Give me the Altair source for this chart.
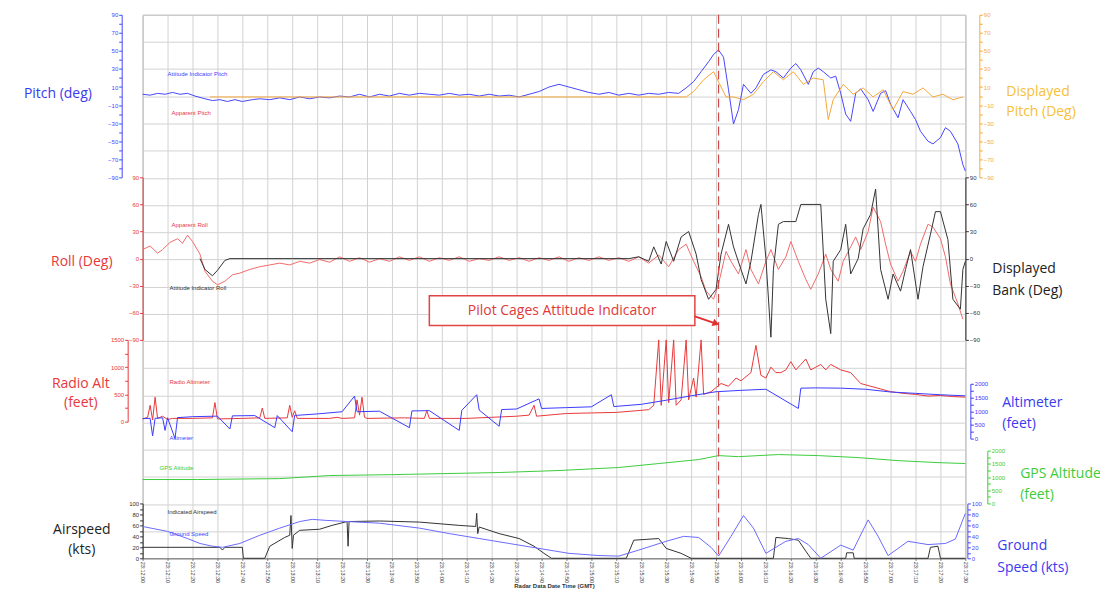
import altair as alt
import pandas as pd

W, H = 825, 545
T_MAX = 330

# ---------------- data ----------------
TICK_T = list(range(0, 331, 10))
TICK_LABELS = [
    "23:12:00", "23:12:10", "23:12:20", "23:12:30", "23:12:40", "23:12:50",
    "23:13:00", "23:13:10", "23:13:20", "23:13:30", "23:13:40", "23:13:50",
    "23:14:00", "23:14:10", "23:14:20", "23:14:30", "23:14:40", "23:14:50",
    "23:15:00", "23:15:10", "23:15:20", "23:15:30", "23:15:40", "23:15:50",
    "23:16:00", "23:16:10", "23:16:20", "23:16:30", "23:16:40", "23:16:50",
    "23:17:00", "23:17:10", "23:17:20", "23:17:30",
]

PITCH_T = [0, 3, 6, 9, 12, 15, 18, 21, 25, 28, 31, 34, 37, 40, 44, 47, 51, 55, 59, 63, 67, 71, 75, 79,
           83, 87, 91, 95, 99, 103, 107, 111, 115, 119, 123, 127, 131, 135, 139, 143, 147, 151, 155, 159,
           163, 167, 171, 175, 179, 183, 187, 191, 195, 199, 203, 207, 211, 215, 218, 221, 224, 227, 229,
           231, 233, 235, 237, 239, 241, 244, 246, 249, 252, 254, 257, 260, 262, 264, 267, 269, 271, 273,
           276, 278, 280, 282, 284, 286, 288, 291, 293, 296, 298, 300, 303, 305, 308, 310, 312, 315, 317,
           320, 322, 324, 327, 329, 330]
PITCH_V = [2, 1, 3, 2, 4, 2, 3, 0, -3, -5, -4, -6, -4, -6, -4, -3, -4, -2, -4, -1, -3, -1, -2, 0,
           -1, 2, -1, 2, 0, 3, 1, 3, 2, 1, 3, 1, 2, 0, 2, 0, 1, -1, 2, 5,
           10, 13, 10, 7, 4, 2, 4, 1, 3, 1, 3, 2, 4, 3, 9, 16, 27, 38, 46,
           51, 43, 7, -31, -15, 13, 3, 9, 24, 29, 27, 20, 31, 36, 29, 13, 27, 31, 27,
           20, 22, 3, -20, -28, 3, 8, -4, -17, 3, 6, -9, -24, -4, -17, -26, -39, -50, -53,
           -46, -35, -39, -53, -76, -83]

DPITCH_T = [27, 60, 100, 150, 200, 218, 221, 225, 229, 234, 237, 241, 245, 249, 253, 257, 261, 265,
            269, 273, 275, 277, 281, 285, 289, 293, 297, 301, 305, 309, 313, 317, 321, 325, 329]
DPITCH_V = [-1, -1, -1, -1, -1, -1, 5, 18, 27, -1, -1, -4, 2, 16, 27, 18, 27, 13,
            20, 18, -26, -4, 13, 2, 9, -1, 7, -15, 5, 2, 9, -1, 2, -4, -1]

ROLL_T = [0, 3, 6, 8, 11, 14, 16, 18, 20, 23, 25, 28, 30, 33, 36, 39, 43, 47, 51, 55,
          59, 63, 67, 71, 75, 79, 83, 87, 91, 95, 99, 103, 107, 111, 115, 119, 123, 127, 131, 135,
          139, 143, 147, 151, 155, 159, 163, 167, 171, 175, 179, 183, 187, 191, 195, 199, 203, 207, 211, 215,
          218, 221, 224, 226, 229, 231, 234, 236, 239, 242, 244, 247, 250, 252, 255, 258, 260, 263, 266, 268,
          271, 274, 276, 279, 281, 284, 286, 288, 291, 293, 296, 298, 300, 303, 305, 308, 310, 312, 315, 317,
          320, 322, 324, 327, 329]
ROLL_V = [10, 14, 6, 10, 18, 22, 17, 26, 19, 5, -14, -25, -29, -25, -18, -16, -12, -9, -7, -5,
          -7, -3, -5, -1, -4, 2, -3, 1, -4, 0, -3, 2, -2, 2, -3, 1, -2, 2, -3, 0,
          -2, 2, -2, 1, -3, 1, -2, 2, -3, 1, -2, 2, -2, 1, -3, 2, -5, 4, -9, 10,
          16, -3, -20, -36, -45, -28, 8, -3, -17, 10, -12, -28, -3, 10, -12, 2, 19, -3, -23, -34,
          -17, 5, -12, -25, -3, 13, 24, 10, 30, 57, 41, 16, -6, -25, -14, 8, -3, 16, 38, 35,
          22, 2, -28, -50, -67]

BANK_T = [23, 25, 28, 30, 33, 35, 60, 100, 150, 195, 199, 203, 205, 208, 210, 213, 216, 219, 222, 224,
          227, 230, 232, 235, 237, 240, 242, 244, 247, 248, 250, 252, 253, 255, 257, 260, 262, 264, 272, 274,
          276, 277, 280, 282, 284, 287, 289, 292, 294, 296, 299, 301, 304, 306, 308, 311, 313, 316, 318, 320,
          323, 325, 328, 329, 330]
BANK_V = [0, -12, -19, -13, -2, 0, 0, 0, 0, 0, 2, -3, 13, -6, 19, -3, 24, 30, 5, -23,
          -45, -34, 5, 38, 13, -12, -28, -3, 49, 60, 0, -87, -12, 38, 41, 41, 41, 60, 60, -45,
          -83, -3, 10, 38, -17, 0, 33, 49, 77, -12, -45, -17, -36, -12, 10, -45, -9, 27, 52, 52,
          21, -45, -56, -12, -3]

RALT_T = [0, 2, 3, 4, 5, 6, 8, 10, 12, 20, 28, 29, 30, 40, 47, 48, 49, 58, 59, 60,
          61, 62, 75, 78, 80, 85, 86, 87, 88, 89, 90, 105, 113, 114, 115, 130, 140, 150, 155, 157,
          158, 165, 170, 180, 190, 198, 203, 205, 207, 208, 210, 211, 213, 214, 216, 218, 219, 221, 222, 224,
          225, 228, 232, 235, 238, 240, 244, 246, 248, 250, 252, 254, 256, 258, 260, 262, 264, 266, 268, 270,
          272, 274, 276, 278, 280, 284, 288, 292, 296, 300, 305, 310, 315, 320, 325, 330]
RALT_V = [50, 80, 300, 30, 450, 60, 100, 40, 60, 60, 70, 350, 50, 60, 70, 250, 60, 70, 300, 80,
          200, 60, 60, 80, 60, 70, 400, 120, 450, 80, 60, 70, 60, 200, 60, 60, 80, 100, 120, 300,
          100, 130, 150, 160, 170, 200, 220, 300, 1500, 300, 1500, 350, 1500, 300, 400, 1500, 400, 800, 450, 1500,
          500, 550, 700, 650, 800, 750, 900, 1400, 850, 800, 1000, 900, 900, 950, 1100, 950, 1050, 1150, 950, 1000,
          1050, 950, 1050, 1000, 950, 900, 700, 650, 600, 550, 520, 500, 470, 480, 460, 450]

ALT_T = [0, 3, 4, 5, 8, 9, 10, 13, 14, 15, 20, 30, 35, 36, 45, 53, 54, 60, 61, 62,
         70, 80, 85, 86, 95, 107, 108, 115, 127, 128, 134, 135, 143, 144, 150, 159, 160, 170, 180, 188,
         189, 200, 210, 220, 230, 240, 250, 263, 264, 270, 280, 290, 300, 310, 320, 330]
ALT_V = [730, 740, 100, 740, 760, 300, 760, 0, 770, 770, 800, 820, 350, 830, 840, 400, 840, 250, 850, 850,
         900, 980, 1550, 980, 1000, 400, 1010, 1020, 300, 1030, 1600, 1040, 450, 1060, 1080, 1450, 1100, 1130, 1160, 1600,
         1170, 1250, 1400, 1560, 1710, 1760, 1800, 1100, 1840, 1850, 1840, 1800, 1700, 1650, 1600, 1560]

GPS_T = [0, 22, 55, 75, 100, 143, 167, 191, 207, 223, 231, 239, 255, 271, 287, 303, 319, 330]
GPS_V = [905, 905, 940, 1055, 1090, 1170, 1245, 1360, 1510, 1660, 1810, 1770, 1850, 1810, 1735, 1620, 1545, 1510]

IAS_T = [0, 31, 32, 33, 40, 40.4, 49, 51, 57, 59, 59.5, 60, 60.5, 63, 71, 76, 82, 82.4, 82.8, 95,
         111, 127, 133.6, 134, 134.4, 135, 143, 151, 157, 161, 164, 194, 197, 207, 210, 216, 220, 253, 254, 259,
         263, 266, 268, 282, 282.4, 285, 285.4, 315, 316, 319, 320, 330]
IAS_V = [20, 20, 15, 20, 20, 0, 0, 22, 38, 42, 78, 18, 42, 51, 53, 60, 67, 22, 67, 68,
         66, 60, 58, 82, 45, 57, 45, 36, 22, 9, 0, 0, 33, 36, 18, 9, 0, 0, 38, 36,
         33, 13, 0, 0, 10, 10, 0, 0, 20, 22, 0, 0]

GS_T = [0, 10, 18, 23, 28, 32, 39, 47, 55, 63, 68, 74, 82, 95, 111, 123, 135, 147, 159, 171,
        183, 191, 199, 210, 217, 223, 228, 231, 236, 241, 245, 250, 258, 263, 267, 272, 280, 285, 291, 295,
        299, 307, 315, 322, 326, 330]
GS_V = [58, 49, 36, 27, 22, 20, 27, 42, 55, 67, 71, 69, 67, 64, 55, 45, 36, 27, 18, 9,
        5, 4, 15, 31, 40, 38, 20, 4, 40, 78, 55, 9, 31, 36, 25, 0, 24, 15, 70, 40,
        5, 31, 25, 27, 35, 82]

CAGE_T = [231]
CAGE_TEXT = "Pilot Cages Attitude Indicator"
BOX_T = [115, 221.5]     # annotation box span (time)
BOX_ROLL = [-41, -74]    # annotation box span (roll scale)
ARROW_T = [221.5, 230]
ARROW_ROLL = [-64, -72]

# ---------------- helpers ----------------
FONT = "Open Sans"
TICK_FONT = "Liberation Sans"
labels_js = "[" + ",".join("'%s'" % s for s in TICK_LABELS) + "]"

XSCALE = alt.Scale(domain=[0, T_MAX], nice=False, zero=False)
X_AX = alt.Axis(values=TICK_T, labelExpr=labels_js + "[round(datum.value/10)]",
                labelAngle=90, labelAlign="left", labelBaseline="middle",
                labelFontSize=5.5, labelFont=TICK_FONT, labelColor="#333", labelPadding=1,
                grid=True, gridColor="#d2d2d2", tickColor="#666", tickSize=2,
                domainColor="#777", title="Radar Data Date Time (GMT)", titleFontSize=6,
                titleFont=TICK_FONT, titleColor="#333", titlePadding=0, labelFlush=False)


def xenc(field="t"):
    return alt.X(field + ":Q", scale=XSCALE, axis=X_AX, title="Radar Data Date Time (GMT)")


DUMMY = pd.DataFrame({"t": [0]})


def yaxis(orient, offset, color, values, label_values):
    cond = " || ".join("datum.value == %s" % v for v in label_values)
    return alt.Axis(orient=orient, offset=offset, values=values,
                    labelExpr="(%s) ? datum.label : ''" % cond, format="d",
                    domainColor=color, tickColor=color, labelColor=color,
                    labelFontSize=6, labelFont=TICK_FONT, tickSize=3, labelPadding=1,
                    grid=False, title=None, labelFlush=False, labelOverlap=False,
                    labelBound=False)


def series(t, v, color, domain, rng, axis=None, width=1.0):
    df = pd.DataFrame({"t": t, "v": v})
    return alt.Chart(df).mark_line(color=color, strokeWidth=width).encode(
        x=xenc(),
        y=alt.Y("v:Q", scale=alt.Scale(domain=domain, range=rng, nice=False, zero=False),
                axis=axis),
    )


def label(text, x, y, color, size, align="left", font=FONT, weight="normal", lh=None):
    kw = dict(text=text, color=color, fontSize=size, align=align, baseline="middle",
              font=font, fontWeight=weight, lineBreak="\n")
    if lh is not None:
        kw["lineHeight"] = lh
    return alt.Chart(DUMMY).mark_text(**kw).encode(x=alt.value(x), y=alt.value(y))


# scale ranges (pixels inside the plot area)
R_PITCH = [163, 0]
R_ROLL = [326, 163]
R_RALT = [408, 326]
R_ALT = [425, 370]
R_GPS = [490, 437]
R_SPD = [545, 490]

BLUE = "#4646ff"
ORANGE = "#f5a93a"
GOLD = "#f6c03a"
RED = "#e8383a"
PINK = "#f06a6a"
BLACK = "#333333"
GREEN = "#3ccc3c"

# grid / x-axis layer
grid = alt.Chart(DUMMY).mark_point(opacity=0).encode(
    x=xenc(),
    y=alt.Y("t:Q", scale=alt.Scale(domain=[0, 20], nice=False, zero=False),
            axis=alt.Axis(values=list(range(21)), grid=True, gridColor="#d2d2d2",
                          labels=False, ticks=False, domain=False, title=None)),
)

pitch = series(PITCH_T, PITCH_V, BLUE, [-90, 90], R_PITCH,
               yaxis("left", 21, BLUE, list(range(-90, 91, 10)), list(range(-90, 91, 20))))
dpitch = series(DPITCH_T, DPITCH_V, ORANGE, [-90, 90], R_PITCH,
                yaxis("right", 14, ORANGE, list(range(-90, 91, 10)), list(range(-90, 91, 20))))
roll = series(ROLL_T, ROLL_V, PINK, [-90, 90], R_ROLL,
              yaxis("left", 0, RED, list(range(-90, 91, 30)), list(range(-90, 91, 30))))
bank = series(BANK_T, BANK_V, BLACK, [-90, 90], R_ROLL,
              yaxis("right", 0, BLACK, list(range(-90, 91, 30)), list(range(-90, 91, 30))))
ralt = series(RALT_T, RALT_V, RED, [0, 1500], R_RALT,
              yaxis("left", 15, RED, list(range(0, 1501, 250)), [0, 500, 1000, 1500]))
alt_l = series(ALT_T, ALT_V, "#3a3aff", [0, 2000], R_ALT,
               yaxis("right", 5, "#3a3aff", list(range(0, 2001, 250)), [0, 500, 1000, 1500, 2000]))
gps = series(GPS_T, GPS_V, GREEN, [0, 2000], R_GPS,
             yaxis("right", 22, GREEN, list(range(0, 2001, 250)), [0, 500, 1000, 1500, 2000]))
ias = series(IAS_T, IAS_V, BLACK, [0, 100], R_SPD,
             yaxis("left", 0, BLACK, list(range(0, 101, 10)), [0, 20, 40, 60, 80, 100]))
gs = series(GS_T, GS_V, "#6a6aff", [0, 100], R_SPD,
            yaxis("right", 2, "#4646ff", list(range(0, 101, 10)), [0, 20, 40, 60, 80, 100]))

cage = alt.Chart(pd.DataFrame({"t": CAGE_T})).mark_rule(
    color="#d04848", strokeDash=[9, 5], strokeWidth=1.2).encode(x=xenc())

ROLL_SCALE = alt.Scale(domain=[-90, 90], range=R_ROLL, nice=False, zero=False)
box_df = pd.DataFrame({"t": [BOX_T[0]], "t2": [BOX_T[1]], "v": [BOX_ROLL[0]], "v2": [BOX_ROLL[1]]})
box = alt.Chart(box_df).mark_rect(fill="white", stroke="#e04444", strokeWidth=1.5).encode(
    x=xenc(), x2="t2:Q", y=alt.Y("v:Q", scale=ROLL_SCALE, axis=None), y2="v2:Q")
box_text = alt.Chart(pd.DataFrame({"t": [sum(BOX_T) / 2], "v": [sum(BOX_ROLL) / 2]})).mark_text(
    text=CAGE_TEXT, color="#e03a3a", fontSize=14, font=FONT).encode(
    x=xenc(), y=alt.Y("v:Q", scale=ROLL_SCALE, axis=None))
arrow_df = pd.DataFrame({"t": [ARROW_T[0]], "t2": [ARROW_T[1]], "v": [ARROW_ROLL[0]], "v2": [ARROW_ROLL[1]]})
arrow = alt.Chart(arrow_df).mark_rule(color="#e03030", strokeWidth=2).encode(
    x=xenc(), x2="t2:Q", y=alt.Y("v:Q", scale=ROLL_SCALE, axis=None), y2="v2:Q")
arrow_head = alt.Chart(pd.DataFrame({"t": [ARROW_T[1]], "v": [ARROW_ROLL[1]]})).mark_point(
    shape="triangle-right", filled=True, size=60, angle=20, color="#e03030", opacity=1).encode(
    x=xenc(), y=alt.Y("v:Q", scale=ROLL_SCALE, axis=None))

texts = [
    label("Pitch (deg)", -85, 79, "#3a3af0", 14, align="center"),
    label("Roll (Deg)", -61, 248, RED, 14, align="center"),
    label("Radio Alt\n(feet)", -62, 370, RED, 14, align="center", lh=19),
    label("Airspeed\n(kts)", -61, 517, "#222", 14, align="center", lh=20),
    label("Displayed\nPitch (Deg)", 866, 77, GOLD, 14, lh=21),
    label("Displayed\nBank (Deg)", 852, 255, "#222", 14, lh=22),
    label("Altimeter\n(feet)", 862, 389, "#3a3af0", 14, lh=21),
    label("GPS Altitude\n(feet)", 880, 460, GREEN, 14, lh=22),
    label("Ground\nSpeed (kts)", 857, 533, "#3a3af0", 14, lh=22),
    label("Attitude Indicator Pitch", 25, 59, BLUE, 6, font=TICK_FONT),
    label("Apparent Pitch", 29, 98, RED, 6, font=TICK_FONT),
    label("Apparent Roll", 29, 211, RED, 6, font=TICK_FONT),
    label("Attitude Indicator Roll", 27, 274, BLACK, 6, font=TICK_FONT),
    label("Radio Altimeter", 27, 368, RED, 6, font=TICK_FONT),
    label("Altimeter", 27, 424, BLUE, 6, font=TICK_FONT),
    label("GPS Altitude", 17, 454, GREEN, 6, font=TICK_FONT),
    label("Indicated Airspeed", 25, 499, BLACK, 6, font=TICK_FONT),
    label("Ground Speed", 27, 521, BLUE, 6, font=TICK_FONT),
]

chart = alt.layer(
    grid, pitch, dpitch, roll, bank, ralt, alt_l, gps, ias, gs, cage,
    box, box_text, arrow, arrow_head, *texts
).resolve_scale(y="independent").properties(
    width=W, height=H,
    padding={"left": 135, "top": 6, "right": 135, "bottom": 33},
    autosize=alt.AutoSizeParams(type="none"),
).configure_view(stroke="#9a9a9a", strokeWidth=1)

chart.save("out.html", embed_options={"renderer": "svg", "actions": False})
